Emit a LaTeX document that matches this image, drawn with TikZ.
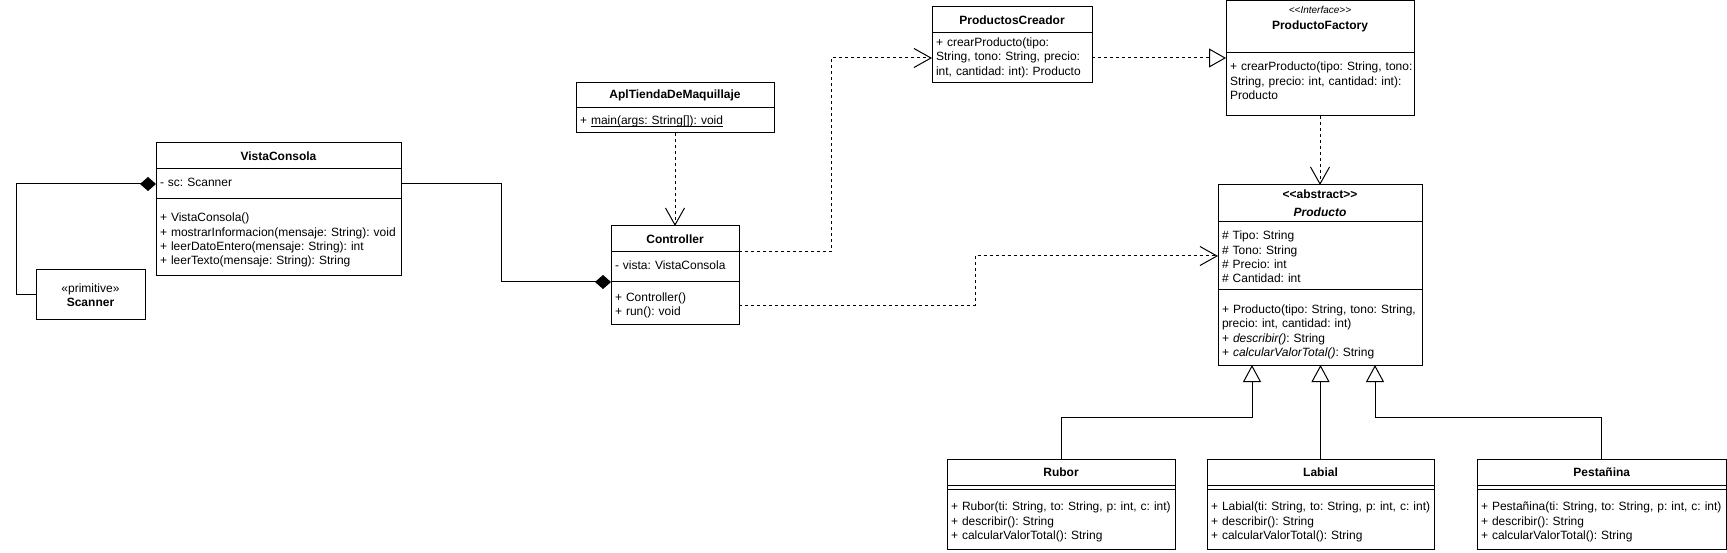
\documentclass[tikz,border=0pt]{standalone}
\usepackage{fontspec}
\setmainfont{Liberation Sans}
\usetikzlibrary{positioning,arrows.meta}
\frenchspacing
\newcommand\rows[2][0pt]{\raisebox{-#1}[\height][\depth]{\begin{tabular}{@{}l@{}}#2\end{tabular}}}
\tikzset{
  part/.style={draw, line width=1pt, outer sep=0pt, inner xsep=4pt, inner ysep=1pt, anchor=north west, align=left},
  head/.style={part, align=center, font=\fontsize{12}{14.4}\selectfont\bfseries},
  dep/.style={line width=1pt, dash pattern=on 3pt off 3pt, -{Straight Barb[length=17pt,width=19pt]}},
  real/.style={line width=1pt, dash pattern=on 3pt off 3pt, -{Triangle[length=17pt,width=19pt,fill=white]}},
  gen/.style={line width=1pt, -{Triangle[length=17pt,width=18pt,fill=white]}},
  comp/.style={line width=1pt, {Diamond[length=16pt,width=14pt]}-},
}
\begin{document}
\begin{tikzpicture}[x=1pt,y=-1pt,font=\fontsize{12}{14.4}\selectfont]
\useasboundingbox (0,0) rectangle (1727,553);
% VistaConsola
\node[head, text width=237pt, minimum height=26pt] (vc) at (156,143) {VistaConsola};
\node[part, text width=237pt, minimum height=30pt, below=0pt of vc] (vc-at) {\rows{- sc: Scanner}};
\node[part, text width=237pt, minimum height=77pt, below=0pt of vc-at] (vc-op) {\rows[3pt]{+ VistaConsola()\\+ mostrarInformacion(mensaje: String): void\\+ leerDatoEntero(mensaje: String): int\\+ leerTexto(mensaje: String): String}};
\node[part, align=center, text width=101pt, minimum height=50pt] (sc) at (36,270) {«primitive»\\\textbf{Scanner}};
% AplTiendaDeMaquillaje
\node[head, text width=190pt, minimum height=25pt] (apl) at (576,83) {AplTiendaDeMaquillaje};
\node[part, text width=190pt, minimum height=25pt, below=0pt of apl] (apl-op) {\rows[1pt]{+ \underline{\smash{main(args: String[]): void}}}};
% Controller
\node[head, text width=120pt, minimum height=26pt] (ctl) at (611,226) {Controller};
\node[part, text width=120pt, minimum height=30pt, below=0pt of ctl] (ctl-at) {\rows{- vista: VistaConsola}};
\node[part, text width=120pt, minimum height=43pt, below=0pt of ctl-at] (ctl-op) {\rows[2pt]{+ Controller()\\+ run(): void}};
% ProductosCreador
\node[head, text width=152pt, minimum height=26pt] (pc) at (932,7) {ProductosCreador};
\node[part, text width=152pt, minimum height=50pt, below=0pt of pc] (pc-op) {\rows{+ crearProducto(tipo:\\String, tono: String, precio:\\int, cantidad: int): Producto}};
% ProductoFactory
\node[head, text width=180pt, minimum height=52.5pt] (pf) at (1226,0.5) {\parbox[c][40pt][t]{180pt}{\centering{\mdseries\itshape\fontsize{10}{12}\selectfont <{}<Interface>{}>}\\[1pt]ProductoFactory}};
\node[part, text width=180pt, minimum height=63pt, below=0pt of pf] (pf-op) {\rows[-2pt]{+ crearProducto(tipo: String, tono:\\String, precio: int, cantidad: int):\\Producto}};
% Producto
\node[head, text width=196pt, minimum height=37pt] (prod) at (1218,185) {<{}<abstract>{}>\\[3.6pt]\textit{Producto}};
\node[part, text width=196pt, minimum height=68pt, below=0pt of prod] (prod-at) {\rows[2.5pt]{\# Tipo: String\\\# Tono: String\\\# Precio: int\\\# Cantidad: int}};
\node[part, text width=196pt, minimum height=75pt, below=0pt of prod-at] (prod-op) {\rows[4.5pt]{+ Producto(tipo: String, tono: String,\\precio: int, cantidad: int)\\+ \textit{describir()}: String\\+ \textit{calcularValorTotal()}: String}};
% Rubor, Labial, Pestañina
\node[head, text width=220pt, minimum height=26pt] (rub) at (947,459) {Rubor};
\node[part, text width=220pt, minimum height=4pt, below=0pt of rub] (rub-at) {};
\node[part, text width=220pt, minimum height=60pt, below=0pt of rub-at] (rub-op) {\rows[3.5pt]{+ Rubor(ti: String, to: String, p: int, c: int)\\+ describir(): String\\+ calcularValorTotal(): String}};
\node[head, text width=219pt, minimum height=26pt] (lab) at (1207,459) {Labial};
\node[part, text width=219pt, minimum height=4pt, below=0pt of lab] (lab-at) {};
\node[part, text width=219pt, minimum height=60pt, below=0pt of lab-at] (lab-op) {\rows[3.5pt]{+ Labial(ti: String, to: String, p: int, c: int)\\+ describir(): String\\+ calcularValorTotal(): String}};
\node[head, text width=241.5pt, minimum height=26pt] (pes) at (1477,459) {Pestañina};
\node[part, text width=241.5pt, minimum height=4pt, below=0pt of pes] (pes-at) {};
\node[part, text width=241.5pt, minimum height=60pt, below=0pt of pes-at] (pes-op) {\rows[3.5pt]{+ Pestañina(ti: String, to: String, p: int, c: int)\\+ describir(): String\\+ calcularValorTotal(): String}};
% relaciones
\draw[comp] (vc-at.west) -- ++(-140,0) |- (sc.west);
\draw[comp] (ctl-at.south west) -- ++(-110,0) |- (vc-at.east);
\draw[dep] (apl-op.south) -- (apl-op.south |- ctl.north);
\draw[dep] (ctl-at.north east) -- ++(92,0) |- (pc-op.west);
\draw[real] (pc-op.east) -- (pc-op.east -| pf.west);
\draw[dep] (pf-op.south) -- (pf-op.south |- prod.north);
\draw[dep] ([yshift=-2pt]ctl-op.east) -- ++(236,0) |- (prod-at.west);
\draw[gen] (rub.north) -- ++(0,-42) -| ([xshift=-68pt]prod-op.south);
\draw[gen] (lab.north) -- (lab.north |- prod-op.south);
\draw[gen] (pes.north) -- ++(0,-42) -| ([xshift=55pt]prod-op.south);
\end{tikzpicture}
\end{document}
